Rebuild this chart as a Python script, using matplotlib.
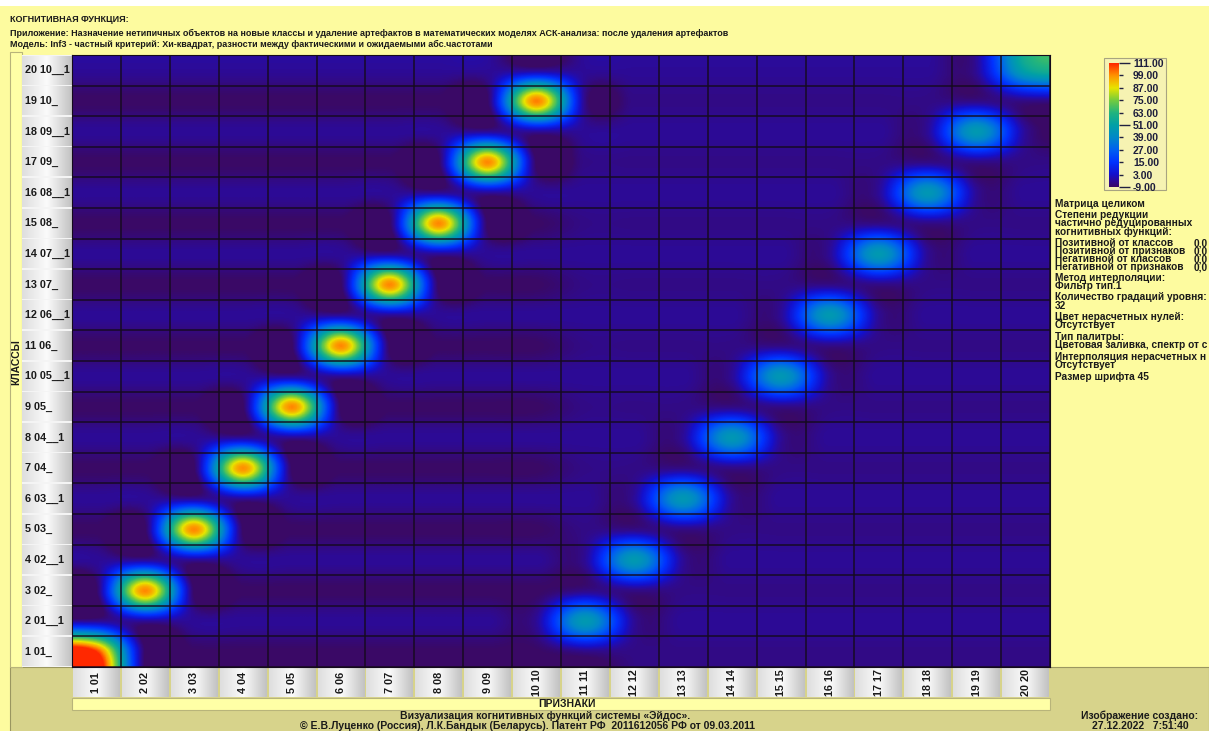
import matplotlib.pyplot as plt
import numpy as np
from matplotlib.colors import LinearSegmentedColormap

# ── Data ──
class_labels = ["1 01_", "2 01__1", "3 02_", "4 02__1", "5 03_", "6 03__1",
                "7 04_", "8 04__1", "9 05_", "10 05__1", "11 06_", "12 06__1",
                "13 07_", "14 07__1", "15 08_", "16 08__1", "17 09_", "18 09__1",
                "19 10_", "20 10__1"]
feature_labels = ["1 01", "2 02", "3 03", "4 04", "5 05", "6 06", "7 07", "8 08",
                  "9 09", "10 10", "11 11", "12 12", "13 13", "14 14", "15 15",
                  "16 16", "17 17", "18 18", "19 19", "20 20"]

# class "k 0k_" peaks at feature k, class "k 0k__1" peaks at feature 10+k
odd_peak = [111, 100, 100, 99, 100, 100, 100, 100, 100, 101]
even_peak = [47, 47, 46, 46, 46, 47, 47, 46, 47, 52]
bg_odd_left = -9
bg_odd_right = -5
bg_even = -3

cbar_ticks = [111, 99, 87, 75, 63, 51, 39, 27, 15, 3, -9]

cells = np.empty((20, 20))
for r in range(20):
    k = r // 2
    if r % 2 == 0:
        cells[r, :10] = bg_odd_left
        cells[r, 10:] = bg_odd_right
        cells[r, k] = odd_peak[k]
    else:
        cells[r, :] = bg_even
        cells[r, 10 + k] = even_peak[k]

# ── Style ──
W, H = 1209, 731
BG = "#fdfb9f"
KHAKI = "#d7d38b"
LIGHT = "#ffffa6"
TXT = "#1a1a1a"
FONT = "Liberation Sans"

spectrum = LinearSegmentedColormap.from_list("eidos", [
    (0.00, "#3a0966"), (0.05, "#2c0b98"), (0.10, "#1410cc"),
    (0.20, "#0032ff"), (0.30, "#0060f0"), (0.40, "#0088c8"),
    (0.50, "#00a0a6"), (0.60, "#22b47e"), (0.70, "#74cc3e"),
    (0.80, "#e8e400"), (0.90, "#ff9400"), (1.00, "#ff2800")])
box_cmap = LinearSegmentedColormap.from_list("box", ["#dedede", "#fbfbfb", "#c2c2c2"])
grad = np.linspace(0, 1, 64)[None, :]


def px_axes(x0, y0, x1, y1):
    return fig.add_axes([x0 / W, 1 - y1 / H, (x1 - x0) / W, (y1 - y0) / H])


def label(x, y, s, size=7.5, **kw):
    bg.text(x, y, s, fontsize=size, fontweight="bold", color=TXT, family=FONT,
            va="center", **kw)


fig = plt.figure(figsize=(W / 100, H / 100), dpi=100, facecolor=BG)

# ── Decorations layer (pixel coordinates) ──
bg = fig.add_axes([0, 0, 1, 1], zorder=0)
bg.axis("off")
bg.add_patch(plt.Rectangle((0, 0), W, 6, color="white", lw=0))
bg.add_patch(plt.Rectangle((10, 667), W - 10, 70, fc=KHAKI, ec="#9a9660", lw=0.8))
bg.add_patch(plt.Rectangle((10, 52), 12, 615, fc=LIGHT, ec="#b8b47a", lw=0.8))
bg.add_patch(plt.Rectangle((72, 698), 978, 12, fc=LIGHT, ec="#b8b47a", lw=0.8))

hx0, hx1, hy0, hy1 = 72, 1050, 55, 667
cw = (hx1 - hx0) / 20
rh = (hy1 - hy0) / 20

bg.add_patch(plt.Rectangle((22, hy0), hx0 - 22, hy1 - hy0, color="#f4f4f4", lw=0))
for i, lab in enumerate(class_labels):
    yt = hy1 - (i + 1) * rh
    bg.imshow(grad, extent=(22, hx0, yt + rh - 1, yt + 1), cmap=box_cmap,
              aspect="auto", zorder=1)
    label(25, yt + rh / 2, lab, size=7.8, ha="left", zorder=2)

for j, lab in enumerate(feature_labels):
    xl = hx0 + j * cw
    bg.imshow(grad, extent=(xl + 1, xl + cw - 1, 697, 668), cmap=box_cmap,
              aspect="auto", zorder=1)
    label(xl + cw / 2, 682.5, lab, size=7.8, rotation=90, ha="center", zorder=2)

label(16, 362, "КЛАССЫ", rotation=90, ha="center")
label(567, 704, "ПРИЗНАКИ", ha="center")

# header
header = ["КОГНИТИВНАЯ ФУНКЦИЯ:",
          "Приложение: Назначение нетипичных объектов на новые классы и удаление "
          "артефактов в математических моделях АСК-анализа: после удаления артефактов",
          "Модель: Inf3 - частный критерий: Хи-квадрат, разности между фактическими "
          "и ожидаемыми абс.частотами"]
for y, line in zip([19, 33, 44], header):
    label(10, y, line, size=6.5, ha="left")

# footer
label(545, 716, "Визуализация когнитивных функций системы «Эйдос».", ha="center")
label(528, 726, "© Е.В.Луценко (Россия), Л.К.Бандык (Беларусь). Патент РФ  "
      "2011612056 РФ от 09.03.2011", ha="center")
label(1140, 716, "Изображение создано:", ha="center")
label(1140, 726, "27.12.2022   7:51:40", ha="center")

# right info panel (text runs off the right edge in the original)
info = [(204, "Матрица целиком"), (215, "Степени редукции"),
        (223, "частично редуцированных"), (232, "когнитивных функций:"),
        (243, "Позитивной от классов"), (251, "Позитивной от признаков"),
        (259, "Негативной от классов"), (267, "Негативной от признаков"),
        (278, "Метод интерполяции:"), (286, "Фильтр тип.1"),
        (297, "Количество градаций уровня:"), (306, "32"),
        (317, "Цвет нерасчетных нулей:"), (325, "Отсутствует"),
        (337, "Тип палитры:"), (345, "Цветовая заливка, спектр от с"),
        (357, "Интерполяция нерасчетных н"), (365, "Отсутствует"),
        (377, "Размер шрифта 45")]
for y, line in info:
    label(1055, y, line, size=7.3, ha="left")
for y in [243, 251, 259, 267]:
    label(1194, y, "0,0", size=7.3, ha="left")

bg.add_patch(plt.Rectangle((1104, 58), 62, 132, fc="#f6f3b2", ec="#a8a480", lw=0.8))
bg.set_xlim(0, W)
bg.set_ylim(H, 0)

# ── Heatmap ──
ax = px_axes(hx0, hy0, hx1, hy1)
ax.set_zorder(2)
ax.imshow(cells, origin="lower", extent=(0, 20, 0, 20), aspect="auto", cmap=spectrum,
          vmin=-9, vmax=111, interpolation="catrom", interpolation_stage="data")
for v in range(21):
    ax.axvline(v, color="#140a1c", lw=1.2, alpha=0.85)
    ax.axhline(v, color="#140a1c", lw=1.2, alpha=0.85)
ax.set_xlim(0, 20)
ax.set_ylim(0, 20)
ax.set_xticks([])
ax.set_yticks([])
for s in ax.spines.values():
    s.set_color("#140a1c")

# ── Colour scale ──
cax = px_axes(1109, 63, 1119, 187)
cax.set_zorder(2)
cax.imshow(np.linspace(-9, 111, 256)[:, None], origin="lower", extent=(0, 1, -9, 111),
           aspect="auto", cmap=spectrum, vmin=-9, vmax=111)
cax.set_xticks([])
cax.yaxis.tick_right()
major = [t for t in cbar_ticks if t in (111, 51, -9)]
minor = [t for t in cbar_ticks if t not in major]
cax.set_yticks(major, labels=[f"{t:.2f}" for t in major])
cax.set_yticks(minor, labels=[f"{t:.2f}" for t in minor], minor=True)
cax.tick_params(axis="y", which="major", length=8, width=1, color="#202040", pad=2)
cax.tick_params(axis="y", which="minor", length=3, width=1, color="#202040", pad=7)
for lab in cax.get_yticklabels(which="both"):
    lab.set_fontsize(7.5)
    lab.set_fontweight("bold")
    lab.set_family(FONT)
    lab.set_color("#1c1c3c")
cax.set_ylim(-9, 111)
for s in cax.spines.values():
    s.set_visible(False)

fig.savefig("out.png", dpi=100, facecolor=BG)
